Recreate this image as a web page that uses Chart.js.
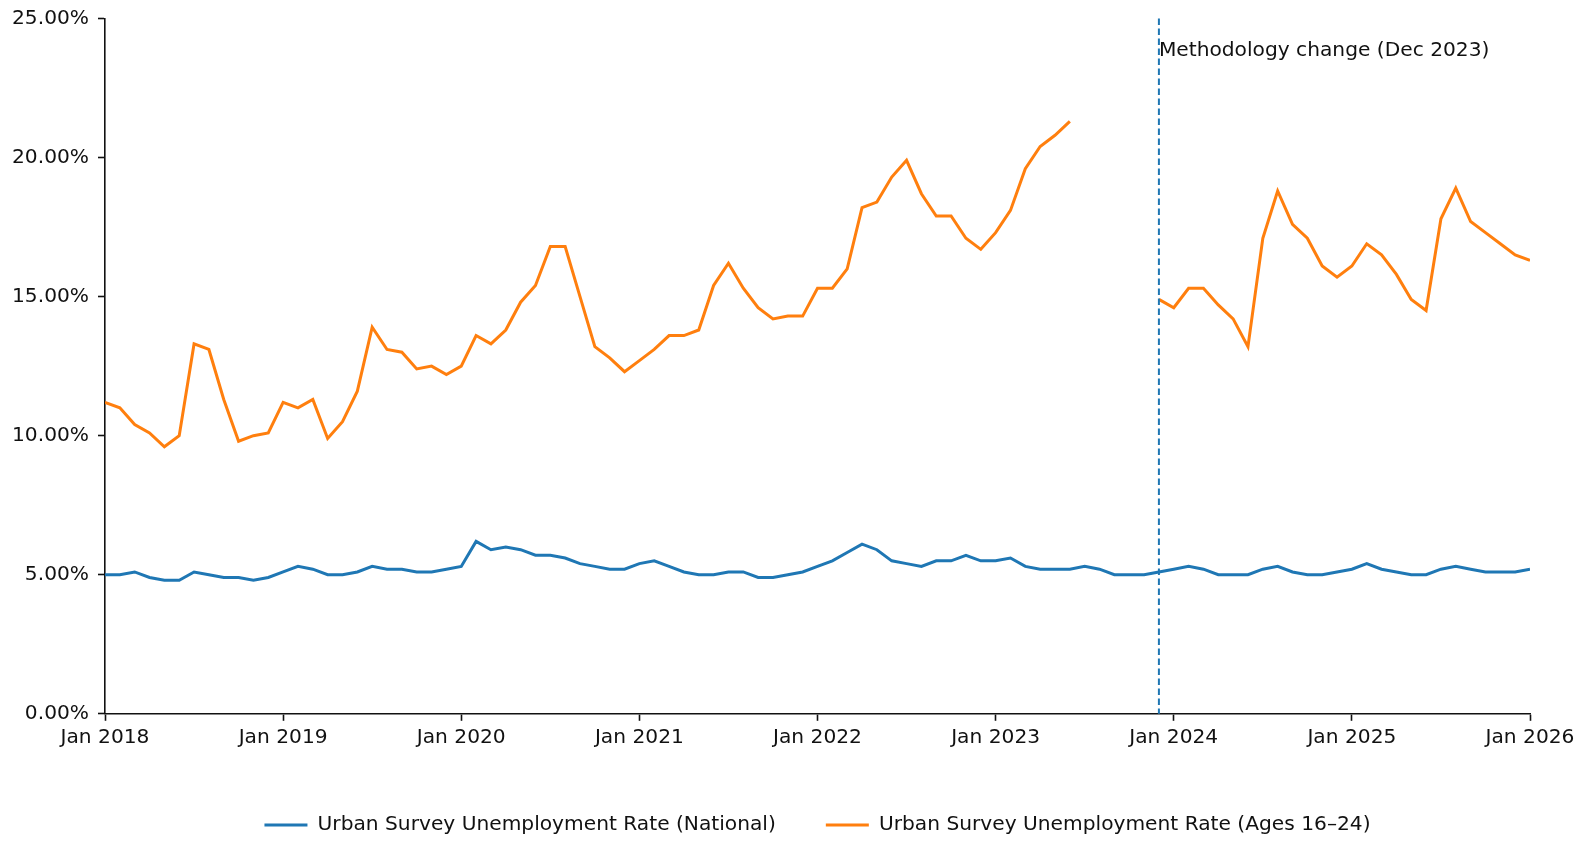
<!DOCTYPE html>
<html>
<head>
<meta charset="utf-8">
<script src="https://cdn.jsdelivr.net/npm/chart.js@4.4.1/dist/chart.umd.min.js"></script>
<style>
  html, body { margin: 0; padding: 0; background: #ffffff; }
  #wrap { width: 1575px; height: 843px; position: relative; }
</style>
</head>
<body>
<div id="wrap"><canvas id="chart" width="1575" height="843"></canvas></div>
<script>
// ---------------- data ----------------
const seriesNames = [
  'Urban Survey Unemployment Rate (National)',
  'Urban Survey Unemployment Rate (Ages 16\u201324)'
];
const tickLabels = ['Jan 2018', 'Jan 2019', 'Jan 2020', 'Jan 2021', 'Jan 2022', 'Jan 2023', 'Jan 2024', 'Jan 2025', 'Jan 2026'];
const monthsPerTick = 12;

// monthly, Jan 2018 .. Jan 2026 (percent)
const nationalRate = [
  5.0, 5.0, 5.1, 4.9, 4.8, 4.8, 5.1, 5.0, 4.9, 4.9, 4.8, 4.9,
  5.1, 5.3, 5.2, 5.0, 5.0, 5.1, 5.3, 5.2, 5.2, 5.1, 5.1, 5.2,
  5.3, 6.2, 5.9, 6.0, 5.9, 5.7, 5.7, 5.6, 5.4, 5.3, 5.2, 5.2,
  5.4, 5.5, 5.3, 5.1, 5.0, 5.0, 5.1, 5.1, 4.9, 4.9, 5.0, 5.1,
  5.3, 5.5, 5.8, 6.1, 5.9, 5.5, 5.4, 5.3, 5.5, 5.5, 5.7, 5.5,
  5.5, 5.6, 5.3, 5.2, 5.2, 5.2, 5.3, 5.2, 5.0, 5.0, 5.0, 5.1,
  5.2, 5.3, 5.2, 5.0, 5.0, 5.0, 5.2, 5.3, 5.1, 5.0, 5.0, 5.1,
  5.2, 5.4, 5.2, 5.1, 5.0, 5.0, 5.2, 5.3, 5.2, 5.1, 5.1, 5.1,
  5.2
];
const youthRate = [
  11.2, 11.0, 10.4, 10.1, 9.6, 10.0, 13.3, 13.1, 11.3, 9.8, 10.0, 10.1,
  11.2, 11.0, 11.3, 9.9, 10.5, 11.6, 13.9, 13.1, 13.0, 12.4, 12.5, 12.2,
  12.5, 13.6, 13.3, 13.8, 14.8, 15.4, 16.8, 16.8, 15.0, 13.2, 12.8, 12.3,
  12.7, 13.1, 13.6, 13.6, 13.8, 15.4, 16.2, 15.3, 14.6, 14.2, 14.3, 14.3,
  15.3, 15.3, 16.0, 18.2, 18.4, 19.3, 19.9, 18.7, 17.9, 17.9, 17.1, 16.7,
  17.3, 18.1, 19.6, 20.4, 20.8, 21.3, null, null, null, null, null, 14.9,
  14.6, 15.3, 15.3, 14.7, 14.2, 13.2, 17.1, 18.8, 17.6, 17.1, 16.1, 15.7,
  16.1, 16.9, 16.5, 15.8, 14.9, 14.5, 17.8, 18.9, 17.7, 17.3, 16.9, 16.5,
  16.3
];
const methodologyMonth = 71;          // Dec 2023 (month index from Jan 2018)
const methodologyLabel = 'Methodology change (Dec 2023)';
const methodologyLabelValue = 23.65;  // y value of label baseline (percent)
const yMax = 25;
const yStep = 5;

// ---------------- chart ----------------
const monthIndex = nationalRate.map((_, i) => i);
const FONT = "'DejaVu Sans', 'Liberation Sans', sans-serif";
const FONT_SIZE = 20.2;
const TEXT = '#111111';
const AXIS = '#111111';
const LEGEND_DY = 2;

Chart.defaults.font.family = FONT;
Chart.defaults.font.size = FONT_SIZE;
Chart.defaults.color = TEXT;

const methodologyPlugin = {
  id: 'methodology',
  afterDatasetsDraw(chart) {
    const { ctx, chartArea, scales } = chart;
    const px = scales.x.getPixelForValue(methodologyMonth);
    ctx.save();
    ctx.strokeStyle = '#1f77b4';
    ctx.lineWidth = 2;
    ctx.setLineDash([6.5, 3.5]);
    ctx.beginPath();
    ctx.moveTo(px, chartArea.top);
    ctx.lineTo(px, chartArea.bottom);
    ctx.stroke();
    ctx.setLineDash([]);
    ctx.fillStyle = TEXT;
    ctx.font = FONT_SIZE + 'px ' + FONT;
    ctx.textAlign = 'left';
    ctx.textBaseline = 'alphabetic';
    ctx.fillText(methodologyLabel, px, scales.y.getPixelForValue(methodologyLabelValue));
    ctx.restore();
  }
};

const legendPlacement = {
  id: 'legendPlacement',
  afterLayout(chart) {
    const l = chart.legend;
    if (!l) return;
    const ca = chart.chartArea;
    const dx = (ca.left + ca.right) / 2 - (l.left + l.right) / 2;
    l.left += dx; l.right += dx;
    l.top += LEGEND_DY; l.bottom += LEGEND_DY;
  }
};

new Chart(document.getElementById('chart'), {
  type: 'line',
  data: {
    labels: monthIndex,
    datasets: [
      {
        label: seriesNames[0],
        data: nationalRate,
        borderColor: '#1f77b4',
        backgroundColor: '#1f77b4',
        borderWidth: 3,
        pointRadius: 0,
        tension: 0,
        spanGaps: false
      },
      {
        label: seriesNames[1],
        data: youthRate,
        borderColor: '#ff7f0e',
        backgroundColor: '#ff7f0e',
        borderWidth: 3,
        pointRadius: 0,
        tension: 0,
        spanGaps: false
      }
    ]
  },
  options: {
    responsive: false,
    animation: false,
    devicePixelRatio: 1,
    layout: { padding: { left: 0, right: 45, top: 18.5, bottom: 0 } },
    plugins: {
      tooltip: { enabled: false },
      legend: {
        position: 'bottom',
        labels: {
          boxWidth: 43,
          boxHeight: 3,
          padding: 50,
          color: TEXT,
          font: { family: FONT, size: FONT_SIZE },
          generateLabels(chart) {
            return Chart.defaults.plugins.legend.labels.generateLabels(chart)
              .map(item => Object.assign({}, item, { lineWidth: 0 }));
          }
        }
      }
    },
    scales: {
      x: {
        type: 'linear',
        min: 0,
        max: monthIndex[monthIndex.length - 1],
        afterFit(scale) {
          scale.height = 49;
          scale.paddingLeft = 0;
          scale.paddingRight = 0;
        },
        ticks: {
          stepSize: monthsPerTick,
          autoSkip: false,
          maxRotation: 0,
          padding: 5,
          color: TEXT,
          font: { family: FONT, size: FONT_SIZE },
          callback: (v) => tickLabels[Math.round(v / monthsPerTick)]
        },
        grid: {
          drawOnChartArea: false,
          drawTicks: true,
          tickLength: 7,
          tickWidth: 1.6,
          tickColor: AXIS
        },
        border: { display: true, color: AXIS, width: 1.6 }
      },
      y: {
        min: 0,
        max: yMax,
        afterFit(scale) {
          scale.width = 105;
          scale.paddingTop = 0;
          scale.paddingBottom = 0;
        },
        ticks: {
          stepSize: yStep,
          padding: 9,
          color: TEXT,
          font: { family: FONT, size: FONT_SIZE },
          callback: (v) => v.toFixed(2) + '%'
        },
        grid: {
          drawOnChartArea: false,
          drawTicks: true,
          tickLength: 7,
          tickWidth: 1.6,
          tickColor: AXIS
        },
        border: { display: true, color: AXIS, width: 1.6 }
      }
    }
  },
  plugins: [methodologyPlugin, legendPlacement]
});
</script>
</body>
</html>
